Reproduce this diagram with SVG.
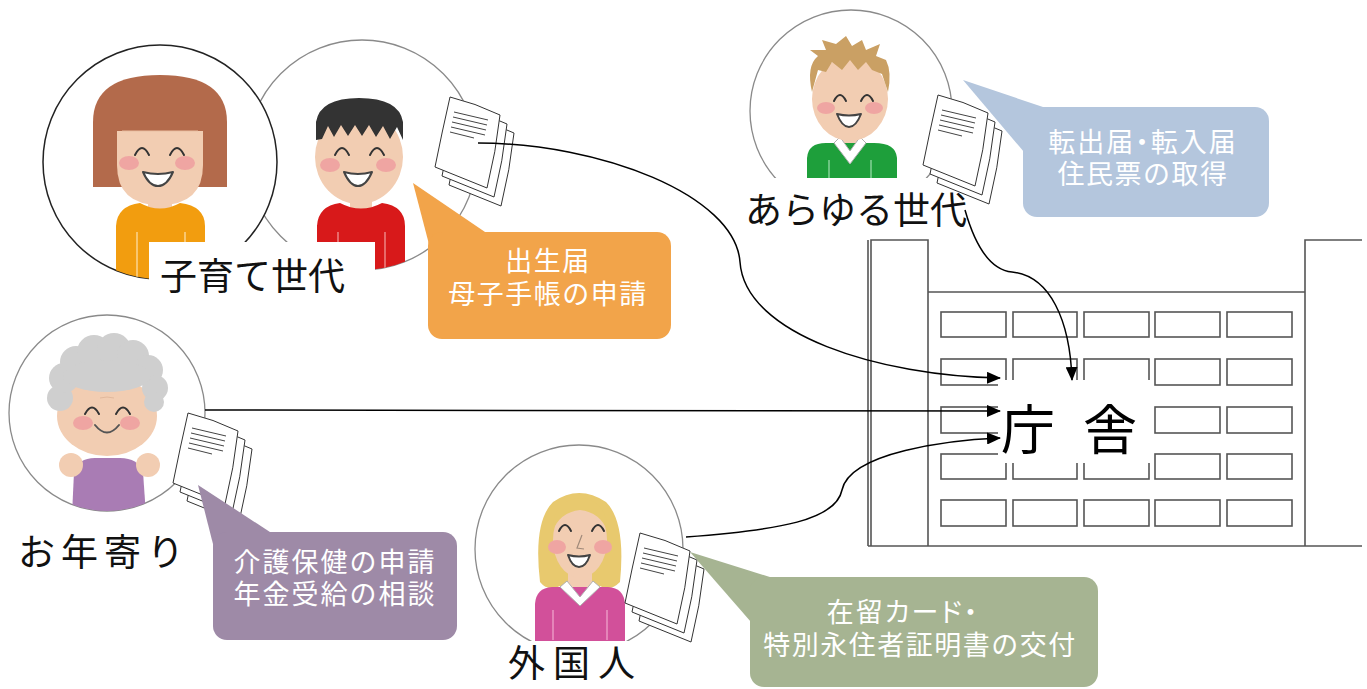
<svg xmlns="http://www.w3.org/2000/svg" width="1367" height="689" viewBox="0 0 1367 689">
  <defs>
    <style>
      .jp { font-family: "Noto Sans CJK JP", "Liberation Sans", sans-serif; }
      .name { font-size: 37px; fill: #111; }
      .tip { font-size: 27px; fill: #ffffff; text-anchor: middle; }
      .prop { font-feature-settings: "palt" 1; }
      .ring { fill: #ffffff; stroke: #8a8a8a; stroke-width: 1.3; }
      .bld { fill: none; stroke: #555; stroke-width: 1.6; }
      .win { fill: #ffffff; stroke: #555; stroke-width: 1.6; }
      .skin { fill: #f2cdb2; }
      .cheek { fill: #efa5a2; }
      .eye { fill: none; stroke: #333; stroke-width: 2; stroke-linecap: round; }
      .mouth { fill: #ffffff; stroke: #444; stroke-width: 2; stroke-linejoin: round; }
      .paper { fill: #ffffff; stroke: #333; stroke-width: 1; }
      .txtline { stroke: #444; stroke-width: 1; }
      .conn { fill: none; stroke: #000; stroke-width: 1.5; }
    </style>
    <marker id="arrow" viewBox="0 0 14 12" refX="13" refY="6" markerWidth="14" markerHeight="12" markerUnits="userSpaceOnUse" orient="auto">
      <path d="M0,0 L14,6 L0,12 Z" fill="#000"/>
    </marker>
    <!-- stack of three paper sheets, front sheet's top-left corner at 0,0 -->
    <g id="doc">
      <path class="paper" transform="translate(14,18)" d="M0,0 Q25,6 50,18 Q46,55 37,91 L-15,70 Q-8,35 0,0 Z"/>
      <path class="paper" transform="translate(7,9)" d="M0,0 Q25,6 50,18 Q46,55 37,91 L-15,70 Q-8,35 0,0 Z"/>
      <path class="paper" d="M0,0 Q25,6 50,18 Q46,55 37,91 L-15,70 Q-8,35 0,0 Z"/>
      <path class="txtline" d="M4,15 L38,23 M3,20 L37,28 M2,25 L36,33 M1,30 L35,38 M0,35 L24,41"/>
    </g>
    <clipPath id="clipMother"><circle cx="160" cy="162" r="117"/></clipPath>
    <clipPath id="clipBoy"><circle cx="362" cy="155" r="115"/></clipPath>
    <clipPath id="clipYoung"><circle cx="851" cy="111" r="101"/></clipPath>
    <clipPath id="clipOld"><circle cx="107" cy="413" r="98"/></clipPath>
    <clipPath id="clipForeign"><circle cx="579" cy="549" r="104"/></clipPath>
  </defs>

  <rect width="1367" height="689" fill="#ffffff"/>

  <!-- city hall building -->
  <g id="cityhall">
    <path class="bld" d="M868,546 L868,240 M871,546 L871,240 L928,240 L928,546 M928,292 L1305,292 M1305,546 L1305,240 L1362,240 M868,546 L1362,546"/>
    <g id="windows">
      <rect class="win" x="941" y="312" width="65" height="25"/>
      <rect class="win" x="1013" y="312" width="64" height="25"/>
      <rect class="win" x="1084" y="312" width="65" height="25"/>
      <rect class="win" x="1155" y="312" width="65" height="25"/>
      <rect class="win" x="1227" y="312" width="65" height="25"/>
      <rect class="win" x="941" y="359" width="65" height="26"/>
      <rect class="win" x="1013" y="359" width="64" height="26"/>
      <rect class="win" x="1084" y="359" width="65" height="26"/>
      <rect class="win" x="1155" y="359" width="65" height="26"/>
      <rect class="win" x="1227" y="359" width="65" height="26"/>
      <rect class="win" x="941" y="407" width="65" height="26"/>
      <rect class="win" x="1013" y="407" width="64" height="26"/>
      <rect class="win" x="1084" y="407" width="65" height="26"/>
      <rect class="win" x="1155" y="407" width="65" height="26"/>
      <rect class="win" x="1227" y="407" width="65" height="26"/>
      <rect class="win" x="941" y="454" width="65" height="25"/>
      <rect class="win" x="1013" y="454" width="64" height="25"/>
      <rect class="win" x="1084" y="454" width="65" height="25"/>
      <rect class="win" x="1155" y="454" width="65" height="25"/>
      <rect class="win" x="1227" y="454" width="65" height="25"/>
      <rect class="win" x="941" y="500" width="65" height="26"/>
      <rect class="win" x="1013" y="500" width="64" height="26"/>
      <rect class="win" x="1084" y="500" width="65" height="26"/>
      <rect class="win" x="1155" y="500" width="65" height="26"/>
      <rect class="win" x="1227" y="500" width="65" height="26"/>
    </g>
    <rect x="998" y="380" width="152" height="83" fill="#ffffff"/>
    <text class="jp" x="1001" y="450" font-size="54" letter-spacing="28" fill="#000">庁舎</text>
  </g>

  <!-- parents with children -->
  <g id="family">
    <circle class="ring" cx="362" cy="155" r="115"/>
    <g clip-path="url(#clipBoy)">
      <rect class="skin" x="350" y="190" width="22" height="22"/>
      <path d="M317,285 L317,226 Q318,206 340,203 Q361,214 382,203 Q405,206 405,226 L405,285 Z" fill="#d8191a"/>
      <path d="M338,232 L338,280 M385,232 L385,280" stroke="#f4a0a0" stroke-width="1.2"/>
      <ellipse class="skin" cx="359" cy="157" rx="44" ry="47"/>
      <path d="M316,140 L316,122 Q320,98 359,98 Q399,98 403,122 L403,140 L397,127 L390,139 L383,126 L376,137 L369,125 L362,136 L355,125 L348,136 L341,125 L334,137 L328,126 L322,139 Z" fill="#333333"/>
      <ellipse class="cheek" cx="330" cy="165" rx="10" ry="7"/>
      <ellipse class="cheek" cx="386" cy="165" rx="10" ry="7"/>
      <path class="eye" d="M335,155 Q342,141 349,155 M370,155 Q377,141 384,155"/>
      <path class="mouth" d="M344,172 Q358,176 372,172 Q366,186 358,186 Q350,186 344,172 Z"/>
    </g>
    <circle cx="160" cy="162" r="117" fill="#ffffff" stroke="#222" stroke-width="1.5"/>
    <g clip-path="url(#clipMother)">
      <path d="M93,187 L93,122 Q93,75 160,75 Q227,75 227,122 L227,187 Z" fill="#b36a4b"/>
      <rect class="skin" x="148" y="190" width="24" height="22"/>
      <path d="M116,290 L116,226 Q117,206 140,203 Q160,214 180,203 Q205,206 205,226 L205,290 Z" fill="#f29d0f"/>
      <path d="M137,232 L137,280 M185,232 L185,280" stroke="#fde2b0" stroke-width="1.2"/>
      <path class="skin" d="M117,131 L203,131 L203,165 Q203,205 160,205 Q117,205 117,165 Z"/>
      <path d="M122,131 L198,131" stroke="#e8bfa2" stroke-width="1"/>
      <ellipse class="cheek" cx="129" cy="163" rx="10" ry="7"/>
      <ellipse class="cheek" cx="185" cy="163" rx="10" ry="7"/>
      <path class="eye" d="M135,155 Q142,141 149,155 M170,155 Q177,141 184,155"/>
      <path class="mouth" d="M143,172 Q158,176 173,172 Q167,186 158,186 Q149,186 143,172 Z"/>
    </g>
    <rect x="149" y="242" width="226" height="60" fill="#ffffff"/>
    <text class="jp name" x="160" y="290" font-size="38">子育て世代</text>
    <use href="#doc" transform="translate(450,97)"/>
  </g>

  <!-- all generations -->
  <g id="allgen">
    <circle class="ring" cx="851" cy="111" r="101"/>
    <g clip-path="url(#clipYoung)">
      <rect class="skin" x="838" y="128" width="24" height="20"/>
      <path d="M807,190 L807,158 Q808,143 826,143 L874,143 Q896,143 897,158 L897,190 Z" fill="#1e9f3b"/>
      <path d="M834,143 L850,164 L866,143 L860,137 L850,151 L840,137 Z" fill="#ffffff" stroke="#b0b0b0" stroke-width="1"/>
      <path d="M829,160 L829,180 M871,160 L871,180" stroke="#9fe0b0" stroke-width="1.2"/>
      <ellipse class="skin" cx="850" cy="99" rx="38" ry="42"/>
      <path d="M812,92 Q806,66 818,56 L810,50 L826,50 L822,40 L836,44 L846,36 L852,46 L862,40 L866,50 L880,44 L876,56 L886,60 Q892,72 888,92 L882,74 L872,70 L866,62 L858,70 L850,60 L842,70 L832,62 L826,72 L818,70 Z" fill="#caa064"/>
      <ellipse class="cheek" cx="826" cy="108" rx="9" ry="6"/>
      <ellipse class="cheek" cx="874" cy="108" rx="9" ry="6"/>
      <path class="eye" d="M834,101 Q840,89 846,101 M861,101 Q867,89 873,101"/>
      <path class="mouth" d="M837,114 Q849,117 861,114 Q856,127 849,127 Q842,127 837,114 Z"/>
    </g>
    <rect x="742" y="178" width="228" height="52" fill="#ffffff"/>
    <text class="jp name" x="745" y="224">あらゆる世代</text>
    <use href="#doc" transform="translate(938,95)"/>
  </g>

  <!-- elderly -->
  <g id="elderly">
    <circle class="ring" cx="107" cy="413" r="98"/>
    <g clip-path="url(#clipOld)">
      <path d="M72,515 L74,472 Q78,458 95,458 L120,458 Q138,458 143,472 L146,515 Z" fill="#a97cb4"/>
      <circle class="skin" cx="71" cy="465" r="12"/>
      <circle class="skin" cx="148" cy="465" r="12"/>
      <ellipse class="skin" cx="107" cy="416" rx="50" ry="40"/>
      <g fill="#cfcfcf">
        <circle cx="60" cy="398" r="13"/>
        <circle cx="64" cy="378" r="15"/>
        <circle cx="76" cy="362" r="16"/>
        <circle cx="94" cy="352" r="17"/>
        <circle cx="114" cy="350" r="17"/>
        <circle cx="133" cy="356" r="16"/>
        <circle cx="148" cy="370" r="15"/>
        <circle cx="155" cy="388" r="13"/>
        <circle cx="154" cy="402" r="10"/>
        <ellipse cx="107" cy="376" rx="44" ry="16"/>
      </g>
      <path d="M100,398 Q107,396 114,398" fill="none" stroke="#e2b89c" stroke-width="1"/>
      <ellipse class="cheek" cx="83" cy="423" rx="10" ry="7"/>
      <ellipse class="cheek" cx="130" cy="423" rx="10" ry="7"/>
      <path class="eye" d="M85,414 Q92,401 99,414 M116,414 Q123,401 130,414"/>
      <path d="M95,425 Q107,440 119,425" fill="none" stroke="#555" stroke-width="2" stroke-linecap="round"/>
    </g>
    <text class="jp name" x="18" y="566" font-size="38" letter-spacing="6">お年寄り</text>
    <use href="#doc" transform="translate(188,413)"/>
  </g>

  <!-- foreign residents -->
  <g id="foreigner">
    <circle class="ring" cx="579" cy="549" r="104"/>
    <g clip-path="url(#clipForeign)">
      <path d="M540,582 Q533,522 553,502 Q579,484 606,502 Q626,522 620,582 Q610,592 600,586 L560,586 Q548,592 540,582 Z" fill="#e8c96e"/>
      <rect class="skin" x="568" y="568" width="24" height="22"/>
      <path d="M535,645 L535,604 Q536,588 552,587 L608,587 Q624,588 625,604 L625,645 Z" fill="#d2509a"/>
      <path d="M560,587 L580,606 L600,587 L593,581 L580,597 L567,581 Z" fill="#ffffff" stroke="#b0b0b0" stroke-width="1"/>
      <path d="M553,610 L553,640 M607,610 L607,640" stroke="#f1a9cf" stroke-width="1.2"/>
      <ellipse class="skin" cx="580" cy="540" rx="27" ry="38"/>
      <path d="M552,532 Q553,500 580,498 Q607,500 608,532 Q600,512 580,510 Q560,512 552,532 Z" fill="#e8c96e"/>
      <ellipse class="cheek" cx="557" cy="547" rx="9" ry="7"/>
      <ellipse class="cheek" cx="603" cy="547" rx="9" ry="7"/>
      <path class="eye" d="M559,531 Q565,519 571,531 M592,531 Q598,519 604,531"/>
      <path d="M582,535 L577,548 L584,549" fill="none" stroke="#a08a7a" stroke-width="1.2"/>
      <path class="mouth" d="M568,555 Q579,558 590,555 Q586,567 579,567 Q572,567 568,555 Z"/>
    </g>
    <rect x="470" y="641" width="220" height="48" fill="#ffffff"/>
    <text class="jp name" x="508" y="677" font-size="36" letter-spacing="8">外国人</text>
    <use href="#doc" transform="translate(640,533)"/>
  </g>

  <!-- speech callouts -->
  <g id="callout-birth">
    <path d="M413,183 L488,234 L431,252 Z" fill="#f2a44a"/>
    <rect x="428" y="232" width="243" height="107" rx="14" fill="#f2a44a"/>
    <text class="jp tip" x="548" y="271" letter-spacing="1.5">出生届</text>
    <text class="jp tip" x="548" y="304" letter-spacing="1.5">母子手帳の申請</text>
  </g>
  <g id="callout-move">
    <path d="M963,80 L1046,108 L1024,152 Z" fill="#b4c6dd"/>
    <rect x="1023" y="107" width="246" height="110" rx="14" fill="#b4c6dd"/>
    <text class="jp tip prop" x="1143" y="152" letter-spacing="2">転出届・転入届</text>
    <text class="jp tip" x="1143" y="184" letter-spacing="1.5">住民票の取得</text>
  </g>
  <g id="callout-care">
    <path d="M198,485 L273,534 L214,548 Z" fill="#9e8aa7"/>
    <rect x="213" y="532" width="244" height="108" rx="14" fill="#9e8aa7"/>
    <text class="jp tip" x="335" y="572" font-size="28" letter-spacing="2">介護保健の申請</text>
    <text class="jp tip" x="335" y="604" font-size="28" letter-spacing="2">年金受給の相談</text>
  </g>
  <g id="callout-residence">
    <path d="M690,552 L773,578 L751,622 Z" fill="#a6b492"/>
    <rect x="750" y="577" width="348" height="110" rx="14" fill="#a6b492"/>
    <text class="jp tip prop" x="903" y="622" font-size="28" letter-spacing="2">在留カード・</text>
    <text class="jp tip" x="920" y="655" font-size="28" letter-spacing="1.5">特別永住者証明書の交付</text>
  </g>

  <!-- connectors -->
  <g id="connectors">
    <path class="conn" marker-end="url(#arrow)" d="M478,143 C600,143 735,195 740,262 C745,335 880,376 1000,378"/>
    <path class="conn" marker-end="url(#arrow)" d="M965,210 C975,245 990,270 1012,272 C1050,276 1070,320 1072,380"/>
    <path class="conn" marker-end="url(#arrow)" d="M205,410 L1000,411"/>
    <path class="conn" marker-end="url(#arrow)" d="M686,537 C780,530 836,520 842,490 C850,452 950,440 1000,438"/>
  </g>
</svg>
